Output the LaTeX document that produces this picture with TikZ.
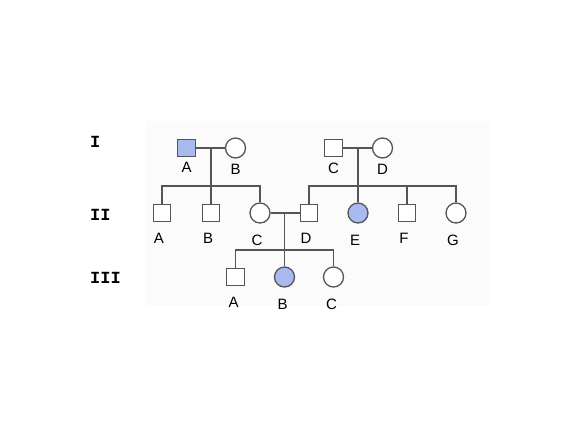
\documentclass[tikz,border=0pt]{standalone}
\usepackage{fontspec}
\setmainfont{Liberation Sans}
\newfontfamily\genfont{Liberation Mono}
\usetikzlibrary{calc}
\definecolor{pline}{RGB}{85,85,85}
\definecolor{pfill}{RGB}{168,186,240}
\definecolor{pback}{RGB}{251,251,251}

\begin{document}
\begin{tikzpicture}[x=1pt,y=-1pt,node distance=49pt,
    male/.style={rectangle,draw=pline,line width=1.3pt,fill=white,minimum size=17.5pt,inner sep=0pt},
    female/.style={circle,draw=pline,line width=1.3pt,fill=white,minimum size=20pt,inner sep=0pt},
    sick/.style={fill=pfill},
    rel/.style={draw=pline,line width=1.3pt},
    gen/.style={font=\genfont\bfseries\fontsize{17}{17}\selectfont,anchor=west,inner sep=0pt},
    lab/.style={font=\fontsize{15}{15}\selectfont,inner sep=0pt},
    labI/.style={label={[lab,label distance=5pt]below:#1}},
    labII/.style={label={[lab,label distance=11pt,xshift=-3pt]below:#1}},
    labIII/.style={label={[lab,label distance=11pt,xshift=-2pt]below:#1}}]
   \useasboundingbox (0,0) rectangle (583,437);
   \fill[pback] (146,121) rectangle (490,306);

   % generations
   \node[gen] (gI)   at (90,142) {I};
   \node[gen] (gII)  at (90,215) {II};
   \node[gen] (gIII) at (90,278) {III};

   % generation I
   \node[male,sick,labI=A] (IA) at (186.5,148)  {};
   \node[female,labI=B]    (IB) [right of=IA]   {};
   \node[male,labI=C]      (IC) at (333.5,148)  {};
   \node[female,labI=D]    (ID) [right of=IC]   {};

   % generation II
   \node[male,labII=A]        (IIA) at (162,213)  {};
   \node[male,labII=B]        (IIB) [right of=IIA] {};
   \node[female,labII=C]      (IIC) [right of=IIB] {};
   \node[male,labII=D]        (IID) [right of=IIC] {};
   \node[female,sick,labII=E] (IIE) [right of=IID] {};
   \node[male,labII=F]        (IIF) [right of=IIE] {};
   \node[female,labII=G]      (IIG) [right of=IIF] {};

   % couples
   \coordinate (m1) at ($(IA)!0.5!(IB)$);
   \coordinate (m2) at ($(IC)!0.5!(ID)$);
   \coordinate (m3) at ($(IIC)!0.5!(IID)$);
   \coordinate (b1) at ($(m1)+(0,38)$);
   \coordinate (b2) at ($(m2)+(0,38)$);
   \coordinate (b3) at ($(m3)+(0,37)$);

   % generation III
   \node[female,sick,labIII=B] (IIIB) [below of=m3,node distance=64pt] {};
   \node[male,labIII=A]        (IIIA) [left of=IIIB]  {};
   \node[female,labIII=C]      (IIIC) [right of=IIIB] {};

   \path[rel] (IA) edge (IB)
              (IC) edge (ID)
              (IIC) edge (IID);

   \draw[rel] (m1) -- (IIB);
   \draw[rel] (IIA) |- (b1) -| (IIC);
   \draw[rel] (m2) -- (IIE);
   \draw[rel] (IID) |- (b2) -| (IIG);
   \draw[rel] (IIF) -- (IIF |- b2);
   \draw[rel] (m3) -- (IIIB);
   \draw[rel] (IIIA) |- (b3) -| (IIIC);
\end{tikzpicture}
\end{document}
